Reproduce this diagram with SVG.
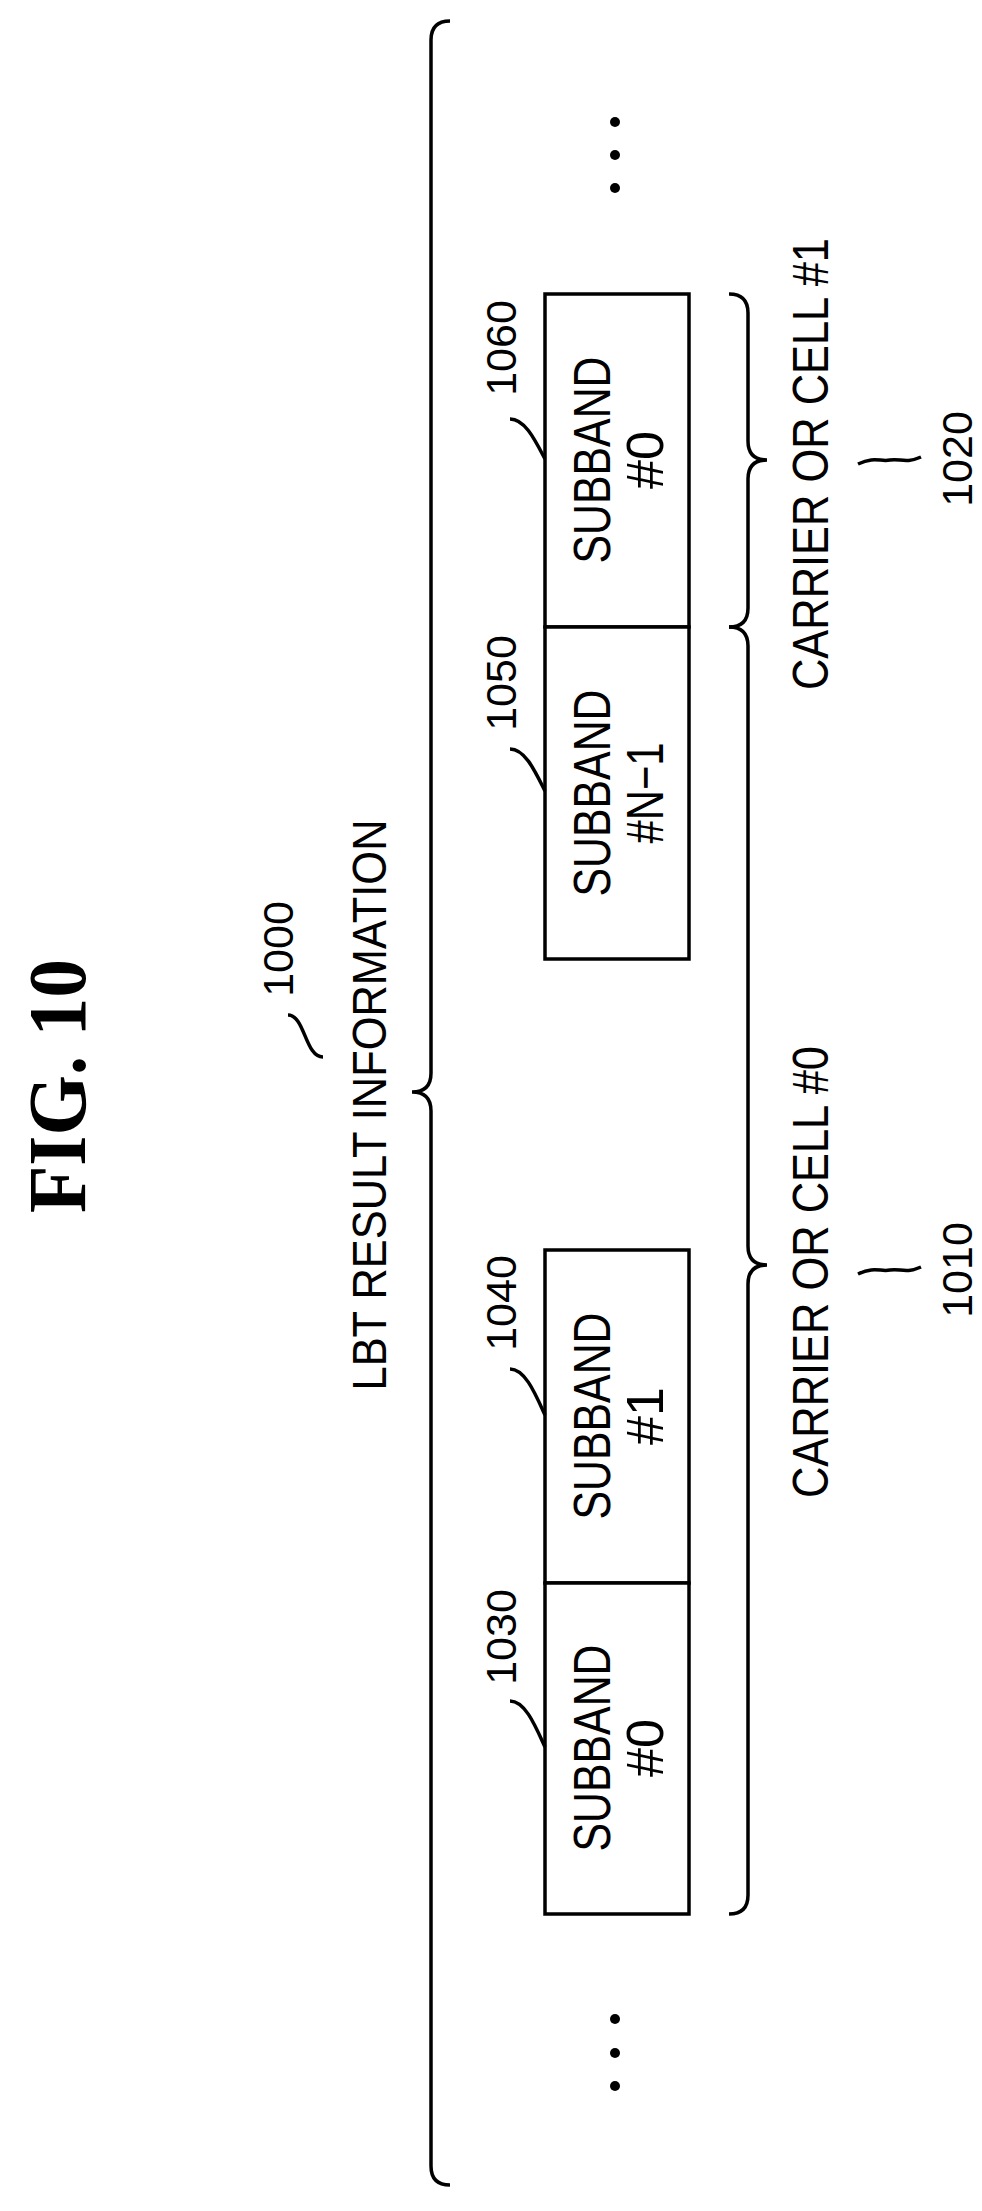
<svg xmlns="http://www.w3.org/2000/svg" width="982" height="2211" viewBox="0 0 982 2211">
<style>
.ln{fill:none;stroke:#000;stroke-width:3.5}
.bx{fill:#fff;stroke:#000;stroke-width:3.5}
.t{font-family:"Liberation Sans",Arial,sans-serif;fill:#000;text-anchor:middle}
.b{font-size:52px}
.r{font-size:43px}
.c{font-size:50px}
</style>
<rect width="982" height="2211" fill="#fff"/>
<text class="t" transform="translate(85,1086) rotate(-90)" style="font-family:'Liberation Serif',serif;font-weight:bold;font-size:82px" textLength="254" lengthAdjust="spacingAndGlyphs">FIG.  10</text>
<g id="n1000">
<text class="t" transform="translate(386,1105) rotate(-90)" style="font-size:48px" textLength="571" lengthAdjust="spacingAndGlyphs">LBT RESULT INFORMATION</text>
<text class="t r" transform="translate(293,949) rotate(-90)">1000</text>
<path class="ln" d="M288,1015 C305,1015 305,1057 323,1057"/>
<path class="ln" d="M450,21 Q431,21 431,40 L431,1073 Q431,1092 412,1092 Q431,1092 431,1111 L431,2166 Q431,2185 450,2185"/>
</g>
<g id="n1060">
<rect class="bx" x="545" y="294" width="144" height="333"/>
<text class="t b" transform="translate(610,460) rotate(-90)" textLength="207" lengthAdjust="spacingAndGlyphs">SUBBAND</text>
<text class="t b" transform="translate(663,460) rotate(-90)">#0</text>
<text class="t r" transform="translate(516,348) rotate(-90)">1060</text>
<path class="ln" d="M510,419 C525,419 535,440 545,459"/>
</g>
<g id="n1050">
<rect class="bx" x="545" y="627" width="144" height="332"/>
<text class="t b" transform="translate(610,793) rotate(-90)" textLength="207" lengthAdjust="spacingAndGlyphs">SUBBAND</text>
<text class="t b" transform="translate(663,793) rotate(-90)" textLength="101" lengthAdjust="spacingAndGlyphs">#N−1</text>
<text class="t r" transform="translate(516,683) rotate(-90)">1050</text>
<path class="ln" d="M510,749 C525,749 535,771 545,791"/>
</g>
<g id="n1040">
<rect class="bx" x="545" y="1250" width="144" height="333"/>
<text class="t b" transform="translate(610,1416) rotate(-90)" textLength="207" lengthAdjust="spacingAndGlyphs">SUBBAND</text>
<text class="t b" transform="translate(663,1416) rotate(-90)">#1</text>
<text class="t r" transform="translate(516,1303) rotate(-90)">1040</text>
<path class="ln" d="M510,1369 C525,1369 535,1393 545,1415"/>
</g>
<g id="n1030">
<rect class="bx" x="545" y="1583" width="144" height="331"/>
<text class="t b" transform="translate(610,1748) rotate(-90)" textLength="207" lengthAdjust="spacingAndGlyphs">SUBBAND</text>
<text class="t b" transform="translate(663,1748) rotate(-90)">#0</text>
<text class="t r" transform="translate(516,1637) rotate(-90)">1030</text>
<path class="ln" d="M510,1701 C525,1701 535,1725 545,1747"/>
</g>
<g id="n1020">
<path class="ln" d="M729,294 Q748,294 748,313 L748,441 Q748,460 767,460 Q748,460 748,479 L748,608 Q748,627 729,627"/>
<text class="t c" transform="translate(828,464) rotate(-90)" textLength="452" lengthAdjust="spacingAndGlyphs">CARRIER OR CELL #1</text>
<path class="ln" d="M858,464 C875,456 880,462 890,460 C900,458 905,464 921,457"/>
<text class="t r" transform="translate(972,459) rotate(-90)">1020</text>
</g>
<g id="n1010">
<path class="ln" d="M729,627 Q748,627 748,646 L748,1246 Q748,1265 767,1265 Q748,1265 748,1284 L748,1895 Q748,1914 729,1914"/>
<text class="t c" transform="translate(828,1272) rotate(-90)" textLength="452" lengthAdjust="spacingAndGlyphs">CARRIER OR CELL #0</text>
<path class="ln" d="M858,1274 C875,1266 880,1272 890,1270 C900,1268 905,1274 921,1267"/>
<text class="t r" transform="translate(972,1270) rotate(-90)">1010</text>
</g>
<g id="dots">
<circle cx="615" cy="122" r="5"/><circle cx="615" cy="155" r="5"/><circle cx="615" cy="188" r="5"/>
<circle cx="615" cy="2019" r="5"/><circle cx="615" cy="2053" r="5"/><circle cx="615" cy="2086" r="5"/>
</g>
</svg>
